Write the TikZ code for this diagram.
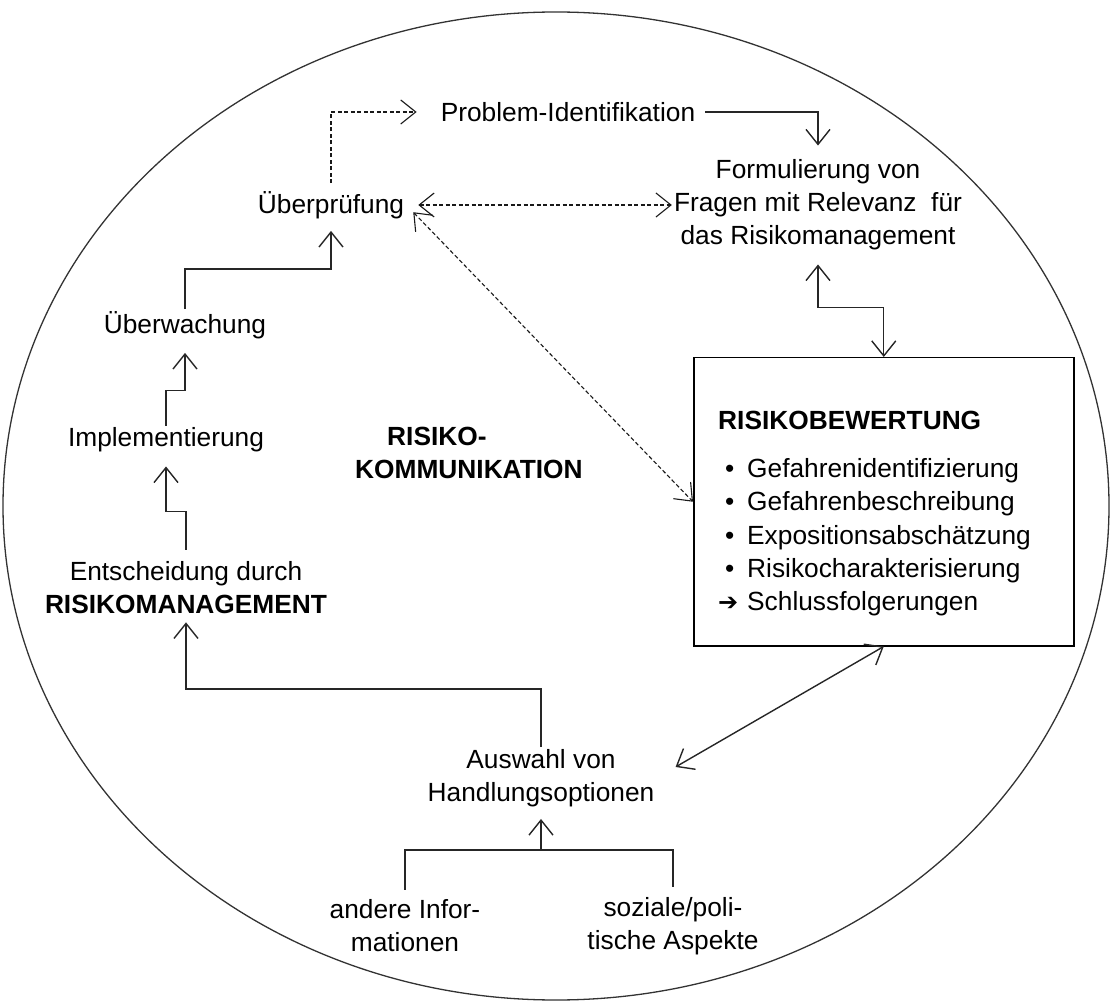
\documentclass[tikz,border=0pt]{standalone}
\usepackage{fontspec}
\setmainfont{Liberation Sans}
\newfontfamily\symfont{DejaVu Sans}
\usetikzlibrary{arrows.meta}
\tikzset{
  vtip/.tip={Straight Barb[length=15pt,width=24pt]},
}
\begin{document}
\begin{tikzpicture}[x=1pt,y=-1pt,
  every node/.style={font=\fontsize{26.3}{33}\selectfont, inner sep=2pt},
  lbl/.style={align=center},
  fwd/.style={-{vtip}},
  bid/.style={{vtip}-{vtip}},
  conn/.style={line width=1.4pt, draw=black!85},
  dsh/.style={line width=1.1pt, draw=black!90, dash pattern=on 4pt off 2.5pt},
  item/.style={anchor=base west},
]
\useasboundingbox (0,0) rectangle (1112,1008);

% surrounding ellipse
\draw[line width=1.3pt, black!80] (556,506) ellipse [x radius=553, y radius=494];

% labels
\node (prob) at (568,112) {Problem-Identifikation};
\node (ueberpr) at (331,205) {Überprüfung};
\node[lbl] (formul) at (818,205) {Formulierung von\\Fragen mit Relevanz\ \ für\\das Risikomanagement};
\node (ueberw) at (185,325) {Überwachung};
\node (impl) at (166,440) {Implementierung};
\node[lbl] (entsch) at (186,588) {Entscheidung durch\\\textbf{RISIKOMANAGEMENT}};
\node[align=left, anchor=west] (komm) at (353,453) {\bfseries\hspace*{32pt}RISIKO-\\\bfseries KOMMUNIKATION};
\node[lbl] (ausw) at (541,778) {Auswahl von\\Handlungsoptionen};
\node[lbl] (andere) at (405,926) {andere Infor-\\mationen};
\node[lbl] (sozial) at (673,926) {soziale/poli-\\tische Aspekte};

% risk assessment box
\node[draw, line width=1.5pt, minimum width=380, minimum height=288, anchor=north west] (rb) at (693,357) {};
\node[item] (rbtitle) at (716,430) {\textbf{RISIKOBEWERTUNG}};
\node[item] (i1) at (716,477) {\makebox[29pt][l]{\hspace{7pt}•}Gefahrenidentifizierung};
\node[item] (i2) at (716,510) {\makebox[29pt][l]{\hspace{7pt}•}Gefahrenbeschreibung};
\node[item] (i3) at (716,544) {\makebox[29pt][l]{\hspace{7pt}•}Expositionsabschätzung};
\node[item] (i4) at (716,577) {\makebox[29pt][l]{\hspace{7pt}•}Risikocharakterisierung};
\node[item] (i5) at (716,610) {\makebox[29pt][l]{{\symfont\fontsize{24}{24}\selectfont ➔}}Schlussfolgerungen};

% connectors
\draw[dsh,fwd,shorten <=6pt,shorten >=22pt] (ueberpr.north) |- (prob.west);
\draw[conn,fwd,shorten <=8pt,shorten >=12pt] (prob.east) -| (formul.north);
\draw[dsh,bid,shorten <=12pt] (ueberpr.east) -- (formul.west);
\draw[dsh,bid,shorten <=10pt] (ueberpr.east) -- (rb.west);
\draw[conn,bid,shorten <=12pt] (formul.south) -- ++(0,55) -| (rb.north);
\draw[conn,bid,shorten >=22pt] (rb.south) -- (ausw.east);
\draw[conn,fwd,shorten >=6pt] (ausw.north) -- ++(0,-58) -| (entsch.south);
\draw[conn,fwd,shorten <=10pt,shorten >=12pt] (entsch.north) -- ++(0,-48) -| (impl.south);
\draw[conn,fwd,shorten >=12pt] (impl.north) -- ++(0,-35) -| (ueberw.south);
\draw[conn,fwd,shorten >=10pt] (ueberw.north) -- ++(0,-40) -| (ueberpr.south);

\coordinate (join) at (541,850);
\draw[conn,shorten <=8pt,shorten >=8pt] (andere.north) |- (join) -| (sozial.north);
\draw[conn,fwd,shorten >=10pt] (join) -- (ausw.south);
\end{tikzpicture}
\end{document}
